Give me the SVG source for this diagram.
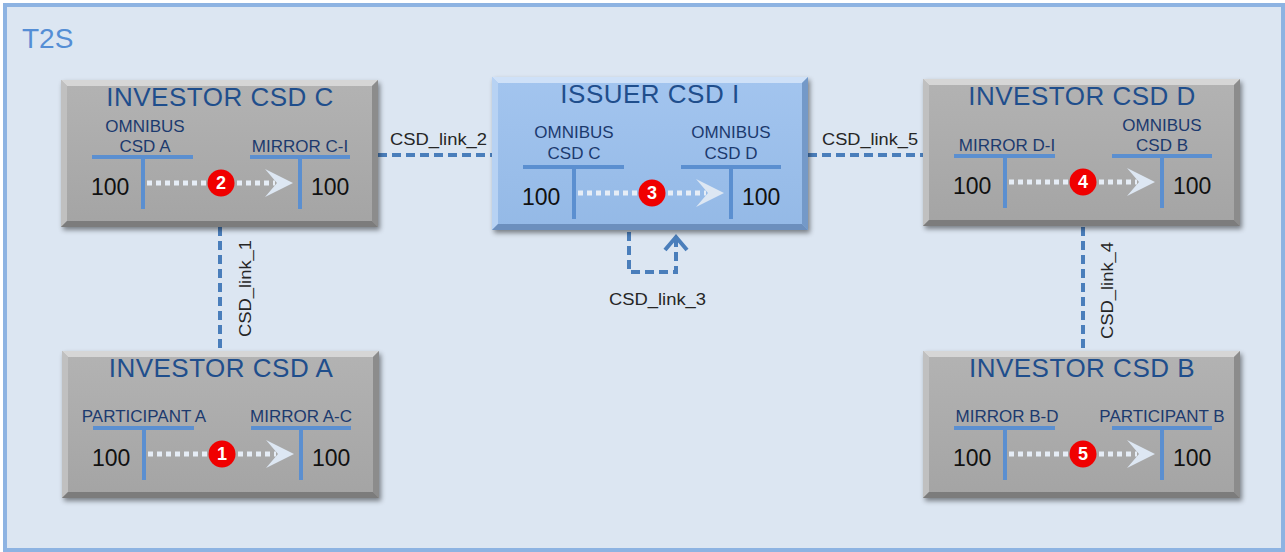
<svg xmlns="http://www.w3.org/2000/svg" xmlns:xlink="http://www.w3.org/1999/xlink" width="1285" height="552" viewBox="0 0 1285 552">
<style>
  .title{font-family:"Liberation Sans",Arial,sans-serif;font-size:26px;fill:#1f4e8c;text-anchor:middle;letter-spacing:0.5px}
  .acct{font-family:"Liberation Sans",Arial,sans-serif;font-size:17px;fill:#1c3a6e;text-anchor:middle}
  .num{font-family:"Liberation Sans",Arial,sans-serif;font-size:23px;fill:#111}
  .tbar{stroke:#5b8fd0;stroke-width:4;fill:none}
  .dots{stroke:#e6edf6;stroke-width:5;stroke-dasharray:5 4;fill:none}
  .head{fill:#dde7f3}
  .badge{fill:#f00000}
  .badgetxt{font-family:"Liberation Sans",Arial,sans-serif;font-size:18px;font-weight:bold;fill:#fff;text-anchor:middle}
  .link{stroke:#4a7ebb;stroke-width:4;stroke-dasharray:9 5;fill:none}
  .linklbl{font-family:"Liberation Sans",Arial,sans-serif;font-size:16px;fill:#262626}
</style>
<defs>
  <filter id="shadow" x="-10%" y="-10%" width="120%" height="125%">
    <feDropShadow dx="2" dy="3" stdDeviation="2.5" flood-color="#000" flood-opacity="0.45"/>
  </filter>
  <linearGradient id="grayGrad" x1="0" y1="0" x2="0" y2="1">
    <stop offset="0" stop-color="#b3b3b3"/>
    <stop offset="1" stop-color="#a4a4a4"/>
  </linearGradient>
  <linearGradient id="blueGrad" x1="0" y1="0" x2="0" y2="1">
    <stop offset="0" stop-color="#a3c5ef"/>
    <stop offset="1" stop-color="#94b9e6"/>
  </linearGradient>
  <g id="graybox">
    <rect x="0" y="0" width="317" height="147" fill="url(#grayGrad)" filter="url(#shadow)"/>
    <polygon points="0,0 317,0 311,6 6,6" fill="#d6d6d6"/>
    <polygon points="0,0 6,6 6,141 0,147" fill="#c0c0c0"/>
    <polygon points="317,0 317,147 311,141 311,6" fill="#8c8c8c"/>
    <polygon points="0,147 6,141 311,141 317,147" fill="#7c7c7c"/>
  </g>
  <g id="bluebox">
    <rect x="0" y="0" width="316" height="153" fill="url(#blueGrad)" filter="url(#shadow)"/>
    <polygon points="0,0 316,0 310,6 6,6" fill="#cfe1f8"/>
    <polygon points="0,0 6,6 6,147 0,153" fill="#b7d2f3"/>
    <polygon points="316,0 316,153 310,147 310,6" fill="#7499c8"/>
    <polygon points="0,153 6,147 310,147 316,153" fill="#6c8fbd"/>
  </g>
  <g id="tacc">
    <line class="tbar" x1="31" y1="77" x2="132" y2="77"/>
    <line class="tbar" x1="82" y1="77" x2="82" y2="129"/>
    <line class="tbar" x1="189" y1="77" x2="289" y2="77"/>
    <line class="tbar" x1="239" y1="77" x2="239" y2="129"/>
    <text class="num" x="30" y="115">100</text>
    <text class="num" x="250" y="115">100</text>
    <line class="dots" x1="86" y1="103" x2="214" y2="103"/>
    <polygon class="head" points="204,89 232,103 204,117 216,103"/>
    <circle class="badge" cx="160" cy="103" r="13.5"/>
  </g>
  <marker id="openArrow" markerUnits="userSpaceOnUse" markerWidth="30" markerHeight="30" refX="0" refY="0" viewBox="-15 -15 30 30" orient="auto" overflow="visible">
    <polyline points="-13,-11 0,0 -13,11" fill="none" stroke="#4a7ebb" stroke-width="4"/>
  </marker>
</defs>

<rect x="5" y="5" width="1278" height="545" fill="#dce6f2" stroke="#8db3e2" stroke-width="4"/>
<text x="22" y="48" font-family="Liberation Sans, Arial, sans-serif" font-size="28" fill="#558ed5">T2S</text>

<g id="connectors">
  <line class="link" x1="378" y1="155" x2="492" y2="155"/>
  <line class="link" x1="808" y1="155" x2="923" y2="155"/>
  <line class="link" x1="220" y1="227" x2="220" y2="351"/>
  <line class="link" x1="1083" y1="227" x2="1083" y2="351"/>
  <path class="link" d="M629,232 V272 H676 V237" marker-end="url(#openArrow)"/>
  <text class="linklbl" x="390" y="145" textLength="97" lengthAdjust="spacingAndGlyphs">CSD_link_2</text>
  <text class="linklbl" x="822" y="145" textLength="96" lengthAdjust="spacingAndGlyphs">CSD_link_5</text>
  <text class="linklbl" x="609" y="305" textLength="97" lengthAdjust="spacingAndGlyphs">CSD_link_3</text>
  <text class="linklbl" transform="translate(251,337) rotate(-90)" x="0" y="0" textLength="97" lengthAdjust="spacingAndGlyphs">CSD_link_1</text>
  <text class="linklbl" transform="translate(1113,339) rotate(-90)" x="0" y="0" textLength="97" lengthAdjust="spacingAndGlyphs">CSD_link_4</text>
</g>

<g id="investor-csd-c" transform="translate(61,80)">
  <use href="#graybox"/>
  <text class="title" x="159" y="26">INVESTOR CSD C</text>
  <text class="acct" x="84" y="52">OMNIBUS</text>
  <text class="acct" x="84" y="72">CSD A</text>
  <text class="acct" x="239" y="72">MIRROR C-I</text>
  <use href="#tacc"/>
  <text class="badgetxt" x="160" y="109">2</text>
</g>

<g id="issuer-csd-i" transform="translate(492,77)">
  <use href="#bluebox"/>
  <text class="title" x="158" y="26">ISSUER CSD I</text>
  <text class="acct" x="82" y="61">OMNIBUS</text>
  <text class="acct" x="82" y="82">CSD C</text>
  <text class="acct" x="239" y="61">OMNIBUS</text>
  <text class="acct" x="239" y="82">CSD D</text>
  <g transform="translate(0,13)">
    <use href="#tacc"/>
    <text class="badgetxt" x="160" y="109">3</text>
  </g>
</g>

<g id="investor-csd-d" transform="translate(923,79)">
  <use href="#graybox"/>
  <text class="title" x="159" y="26">INVESTOR CSD D</text>
  <text class="acct" x="84" y="72">MIRROR D-I</text>
  <text class="acct" x="239" y="52">OMNIBUS</text>
  <text class="acct" x="239" y="72">CSD B</text>
  <use href="#tacc"/>
  <text class="badgetxt" x="160" y="109">4</text>
</g>

<g id="investor-csd-a" transform="translate(62,351)">
  <use href="#graybox"/>
  <text class="title" x="159" y="26">INVESTOR CSD A</text>
  <text class="acct" x="82" y="71">PARTICIPANT A</text>
  <text class="acct" x="239" y="71">MIRROR A-C</text>
  <use href="#tacc"/>
  <text class="badgetxt" x="160" y="109">1</text>
</g>

<g id="investor-csd-b" transform="translate(923,351)">
  <use href="#graybox"/>
  <text class="title" x="159" y="26">INVESTOR CSD B</text>
  <text class="acct" x="84" y="71">MIRROR B-D</text>
  <text class="acct" x="239" y="71">PARTICIPANT B</text>
  <use href="#tacc"/>
  <text class="badgetxt" x="160" y="109">5</text>
</g>
</svg>
